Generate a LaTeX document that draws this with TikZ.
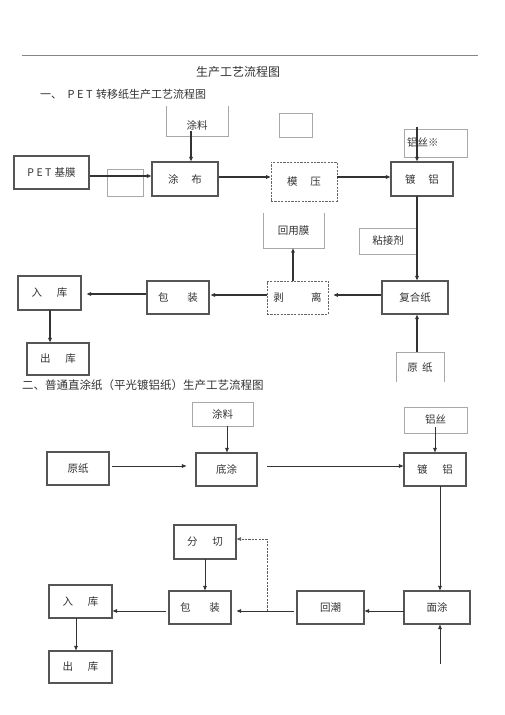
\documentclass[tikz,border=0pt]{standalone}
\usepackage{fontspec}
\setmainfont{Noto Sans CJK SC}
\usetikzlibrary{arrows.meta,calc}
\definecolor{boxc}{HTML}{555555}
\definecolor{grayc}{HTML}{A8A8A8}
\definecolor{arrc}{HTML}{333333}
\definecolor{txt}{HTML}{333333}
\begin{document}
\begin{tikzpicture}[x=1pt,y=-1pt,
  lbl/.style={inner sep=0pt, text=txt, font=\fontsize{10.5}{12}\selectfont},
  bx/.style={lbl, draw=boxc, line width=1.05pt},
  dbx/.style={lbl, draw=boxc!90, line width=0.75pt, dash pattern=on 2.2pt off 1.2pt},
  gbx/.style={lbl, draw=grayc, line width=0.6pt},
  gline/.style={draw=grayc, line width=0.6pt},
  arr/.style={draw=arrc, line width=0.9pt, -{Triangle[length=4.5pt,width=3.5pt]}},
  tarr/.style={arr, line width=1.3pt},
  darr/.style={draw=arrc!80, line width=0.75pt, dash pattern=on 2.2pt off 1.2pt, -{Triangle[length=4.5pt,width=3.5pt]}},
  head/.style={inner sep=0pt, text=txt, anchor=west, font=\fontsize{11}{13}\selectfont}]
\useasboundingbox (0,0) rectangle (505,715);
\fill[white] (0,0) rectangle (505,715);
% top rule
\coordinate (r1) at (22,55);
\coordinate (r2) at (478,55);
\draw[grayc!80!black, line width=0.6pt] (r1) -- (r2);
\node[inner sep=0pt, text=txt, font=\fontsize{12}{14}\selectfont] (title) at (238,72) {生产工艺流程图};
\node[head] (h1) at (40,94) {一、\hspace{0.5em}P\kern2.5pt E\kern2.5pt T\hspace{0.3em}转移纸生产工艺流程图};

% ---------- section 1 ----------
\node[bx, minimum width=75, minimum height=33] (pet) at (51.5,172.5) {P\kern2.5pt E\kern2.5pt T\hspace{0.3em}基膜};
\node[gbx, minimum width=36, minimum height=27] (blank1) at (125,182.5) {};
\node[bx, minimum width=66, minimum height=34] (tubu) at (185,179) {涂\hspace{1.2em}布};
\node[lbl, minimum width=62, minimum height=30] (tl1) at (197,121) {};
\node[lbl, anchor=center] (tl1t) at (197,125) {涂料};
\draw[gline] (tl1.north west) -- (tl1.south west) -- (tl1.south east) -- (tl1.north east);
\node[gbx, minimum width=33, minimum height=24] (blank2) at (295.5,125) {};
\node[dbx, minimum width=66, minimum height=39] (moya) at (304,181.5) {模\hspace{1.2em}压};
\node[bx, minimum width=62, minimum height=34] (dulv1) at (422,179) {镀\hspace{1.2em}铝};
\node[gbx, minimum width=63, minimum height=28, text width=57pt, inner xsep=3pt, align=left] (lvsi1) at (435.5,143) {铝丝※};
\coordinate (a1) at (191,131);
\draw[tarr] (a1) -- (a1 |- tubu.north);
\coordinate (a2) at (417,127);
\draw[tarr] (a2) -- (a2 |- dulv1.north);
\draw[tarr] ($(pet.east)+(0,3.5)$) -- ($(tubu.west)+(0,-3)$);
\draw[tarr] ($(tubu.east)+(0,-2)$) -- ($(moya.west)+(0,-4.5)$);
\draw[tarr] ($(moya.east)+(0,-4.5)$) -- ($(dulv1.west)+(0,-2)$);

\node[lbl, minimum width=61, minimum height=35] (hym) at (293.5,230.5) {};
\node[lbl] (hymt) at (293.5,231) {回用膜};
\draw[gline] (hym.north west) -- (hym.south west) -- (hym.south east) -- (hym.north east);
\node[gbx, minimum width=58, minimum height=26] (njj) at (388,241) {粘接剂};
\node[bx, minimum width=63, minimum height=34] (ruku1) at (49.5,293) {入\hspace{1.4em}库};
\node[bx, minimum width=62, minimum height=33] (bz1) at (178,297.5) {包\hspace{1.8em}装};
\node[dbx, minimum width=61, minimum height=33] (boli) at (297.5,297.5) {剥\hspace{2.6em}离};
\node[bx, minimum width=66, minimum height=33] (fhz) at (415,297.5) {复合纸};
\node[bx, minimum width=62, minimum height=32] (chuku1) at (58,359) {出\hspace{1.4em}库};
\node[lbl, minimum width=48, minimum height=30] (yz1) at (420,367) {};
\node[lbl] (yz1t) at (420,368) {原\hspace{0.4em}纸};
\draw[gline] (yz1.south west) -- (yz1.north west) -- (yz1.north east) -- (yz1.south east);

\coordinate (a3) at (417,196);
\draw[tarr] (a3) -- (a3 |- fhz.north);
\coordinate (a4) at (417,352);
\draw[tarr] (a4) -- (a4 |- fhz.south);
\coordinate (a5) at (293,281);
\draw[tarr] (a5) -- (a5 |- hym.south);
\draw[tarr] ($(fhz.west)+(0,-2.5)$) -- ($(boli.east)+(5,-2.5)$);
\draw[tarr] ($(boli.west)+(0,-2.5)$) -- ($(bz1.east)+(1,-2.5)$);
\draw[tarr] ($(bz1.west)+(0,-3.5)$) -- ($(ruku1.east)+(5,1)$);
\coordinate (a6) at (50,310);
\draw[tarr] (a6) -- (a6 |- chuku1.north);

% ---------- section 2 ----------
\node[head, font=\fontsize{11.5}{13}\selectfont] (h2) at (22,385) {二、普通直涂纸（平光镀铝纸）生产工艺流程图};
\node[gbx, minimum width=61, minimum height=24] (tl2) at (222.5,414) {涂料};
\node[gbx, minimum width=63, minimum height=26] (lvsi2) at (435.5,420) {铝丝};
\node[bx, minimum width=62, minimum height=33] (yz2) at (78,468.5) {原纸};
\node[bx, minimum width=61, minimum height=33] (ditu) at (226.5,469.5) {底涂};
\node[bx, minimum width=62, minimum height=33] (dulv2) at (435,469.5) {镀\hspace{1.4em}铝};
\coordinate (b1) at (112,466);
\draw[arr] (b1) -- ($(ditu.west |- b1)+(-9,0)$);
\coordinate (b2) at (267,466);
\draw[arr] (b2) -- (b2 -| dulv2.west);
\coordinate (b3) at (227,426);
\draw[arr] (b3) -- (b3 |- ditu.north);
\coordinate (b4) at (435,427);
\draw[arr] (b4) -- (b4 |- dulv2.north);

\node[bx, minimum width=62, minimum height=34] (fq) at (205,542) {分\hspace{1.4em}切};
\node[bx, minimum width=63, minimum height=33] (ruku2) at (80.5,601.5) {入\hspace{1.4em}库};
\node[bx, minimum width=62, minimum height=33] (bz2) at (200,607.5) {包\hspace{1.8em}装};
\node[bx, minimum width=67, minimum height=33] (hc) at (330.5,607.5) {回潮};
\node[bx, minimum width=66, minimum height=33] (mt) at (437,607.5) {面涂};
\node[bx, minimum width=63, minimum height=32] (chuku2) at (80.5,667) {出\hspace{1.4em}库};

\coordinate (b5) at (440,486);
\draw[arr] (b5) -- (b5 |- mt.north);
\coordinate (b6) at (440,664);
\draw[arr] (b6) -- (b6 |- mt.south);
\coordinate (b7) at (404,611);
\draw[arr] (b7) -- (b7 -| hc.east);
\coordinate (b8) at (294,611);
\draw[arr] (b8) -- ($(b8 -| bz2.east)+(5,0)$);
\coordinate (b9) at (267,611);
\coordinate (b10) at (267,539);
\draw[darr] (b9) -- (b10) -- (b10 -| fq.east);
\coordinate (b11) at (205,559);
\draw[arr] (b11) -- (b11 |- bz2.north);
\coordinate (b12) at (166,611);
\draw[arr] (b12) -- (b12 -| ruku2.east);
\coordinate (b13) at (76,618);
\draw[arr] (b13) -- (b13 |- chuku2.north);
\end{tikzpicture}
\end{document}
